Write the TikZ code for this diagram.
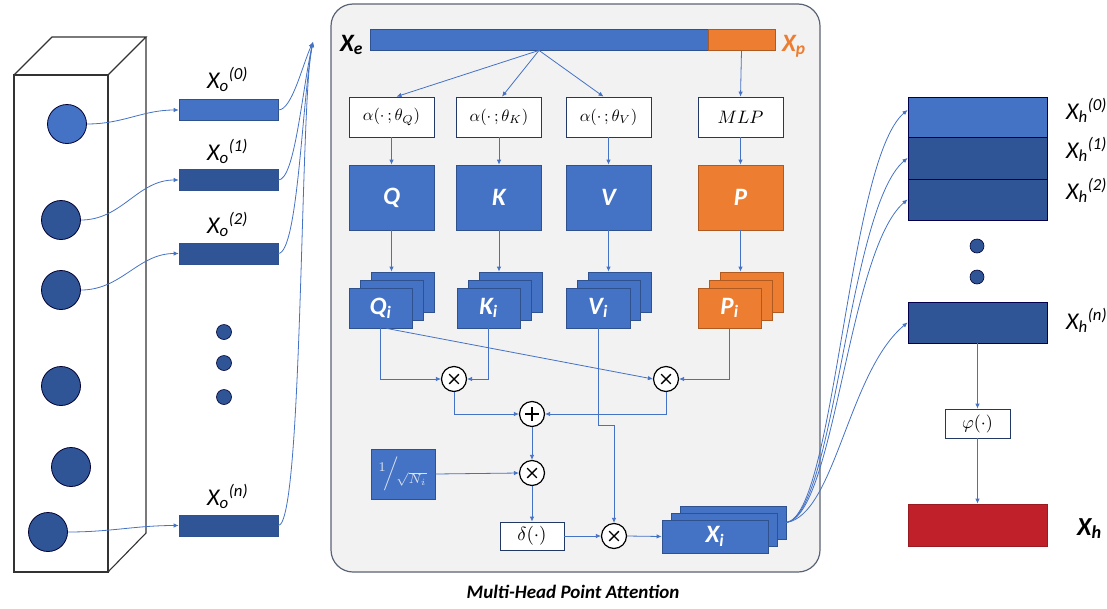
\RequirePackage{fix-cm}
\documentclass[tikz,border=0pt]{standalone}
\usepackage{amsmath}
\usepackage{graphicx}
\usepackage{fontspec}
\newfontfamily\calib{Carlito}
\usetikzlibrary{arrows.meta,calc}
\definecolor{mblue}{HTML}{4472C4}
\definecolor{dblue}{HTML}{2F5597}
\definecolor{eblue}{HTML}{2F528F}
\definecolor{morange}{HTML}{ED7D31}
\definecolor{eorange}{HTML}{AE5A21}
\definecolor{mred}{HTML}{C0202A}
\definecolor{pfill}{HTML}{F2F2F2}
\definecolor{pline}{HTML}{5A6374}
\definecolor{lblue}{HTML}{DCE4F2}
\definecolor{lline}{HTML}{333333}
\tikzset{
 flow/.style={draw=mblue, line width=0.8pt, -{Latex[length=5pt,width=4.5pt]}},
 wbox/.style={draw=eblue!70!black, fill=white, line width=0.8pt, inner sep=0pt},
 bbox/.style={draw=eblue, fill=mblue, line width=0.8pt, inner sep=0pt, text=white, font=\calib\bfseries\itshape\fontsize{25}{25}\selectfont},
 obox/.style={bbox, draw=eorange, fill=morange},
 dbar/.style={draw=eblue, fill=dblue, line width=0.6pt, inner sep=0pt, minimum width=99pt, minimum height=21pt},
 orb/.style={circle, draw=black!80!blue, fill=dblue, line width=0.8pt, minimum size=39pt, inner sep=0pt},
 sdot/.style={circle, draw=black!80!blue, fill=dblue, line width=0.6pt, minimum size=15pt, inner sep=0pt},
 opnode/.style={circle, draw=black, fill=white, line width=1.2pt, minimum size=25pt, inner sep=0pt},
 times/.style={opnode, path picture={
   \draw[line width=1.4pt] ([shift={(-4.8,-4.8)}]path picture bounding box.center) -- ([shift={(4.8,4.8)}]path picture bounding box.center);
   \draw[line width=1.4pt] ([shift={(-4.8,4.8)}]path picture bounding box.center) -- ([shift={(4.8,-4.8)}]path picture bounding box.center);}},
 plus/.style={opnode, path picture={
   \draw[line width=1.4pt] ([shift={(-7,0)}]path picture bounding box.center) -- ([shift={(7,0)}]path picture bounding box.center);
   \draw[line width=1.4pt] ([shift={(0,-7)}]path picture bounding box.center) -- ([shift={(0,7)}]path picture bounding box.center);}},
 lab/.style={font=\calib\itshape\fontsize{24}{24}\selectfont, inner sep=0pt, anchor=base west},
 hrow/.style={draw=black!70!blue, fill=dblue, line width=0.9pt, inner sep=0pt, minimum width=139pt},
 boxline/.style={draw=lline, line width=1.1pt},
}
\begin{document}
\begin{tikzpicture}[x=1pt,y=-1pt]
\useasboundingbox (0,0) rectangle (1107,608);
% ---------- left prism ----------
\draw[boxline] (14,75) rectangle (108,572);
\draw[boxline] (14,75) -- (52,37) -- (146,37) -- (108,75);
\draw[boxline] (146,37) -- (146,533) -- (108,572);
\node[orb, fill=mblue] (c0) at (67,124) {};
\node[orb] (c1) at (61,220) {};
\node[orb] (c2) at (61,290) {};
\node[orb] (c3) at (61,386) {};
\node[orb] (c4) at (71,467) {};
\node[orb] (c5) at (48,532) {};
% dots
\node[sdot] (d1) at (224,332) {};
\node[sdot] (d2) at (224,363) {};
\node[sdot] (d3) at (224,397) {};
% bars
\node[dbar, fill=mblue] (xo0) at (228.5,110) {};
\node[dbar] (xo1) at (228.5,180) {};
\node[dbar] (xo2) at (228.5,253.5) {};
\node[dbar] (xon) at (228.5,525.5) {};
\node[lab] (lo0) at (207,88) {X\textsubscript{o}\textsuperscript{(0)}};
\node[lab] (lo1) at (207,160) {X\textsubscript{o}\textsuperscript{(1)}};
\node[lab] (lo2) at (207,233) {X\textsubscript{o}\textsuperscript{(2)}};
\node[lab] (lon) at (207,505) {X\textsubscript{o}\textsuperscript{(n)}};
\draw[flow] (c0.east) to[out=0,in=180] (xo0.west);
\draw[flow] (c1.east) to[out=0,in=180] (xo1.west);
\draw[flow] (c2.east) to[out=0,in=180] (xo2.west);
\draw[flow] (c5.east) to[out=0,in=180] (xon.west);
\coordinate (conv) at (313,42);
\draw[flow] (xo0.east) .. controls (292,110) and (302,66) .. (conv);
\draw[flow] (xo1.east) .. controls (295,180) and (302,90) .. (conv);
\draw[flow] (xo2.east) .. controls (298,253) and (302,100) .. (conv);
\draw[flow] (xon.east) .. controls (303,525) and (300,100) .. (conv);
% ---------- panel ----------
\node[draw=pline, fill=pfill, line width=1.2pt, rounded corners=22pt, minimum width=489pt, minimum height=568pt, inner sep=0pt] (panel) at (575.5,288) {};
\node[font=\calib\bfseries\itshape\fontsize{19}{19}\selectfont] (cap) at (573,592) {Multi-Head Point Attention};
\node[draw=eblue, fill=mblue, line width=0.8pt, minimum width=338pt, minimum height=21pt, inner sep=0pt] (xeb) at (539,39.5) {};
\node[draw=eorange, fill=morange, line width=0.8pt, minimum width=67pt, minimum height=21pt, inner sep=0pt] (xpb) at (741.5,39.5) {};
\node[font=\calib\bfseries\itshape\fontsize{25}{25}\selectfont, inner sep=0pt, anchor=base west] (xel) at (340,51) {X\textsubscript{e}};
\node[font=\calib\bfseries\itshape\fontsize{25}{25}\selectfont, inner sep=0pt, anchor=base west, text=morange] (xpl) at (782,51) {X\textsubscript{p}};
% alpha boxes
\node[wbox, minimum width=85pt, minimum height=40pt] (aq) at (391.5,117) {\scalebox{1.65}{$\alpha(\cdot\,;\theta_Q)$}};
\node[wbox, minimum width=85pt, minimum height=40pt] (ak) at (499,117) {\scalebox{1.65}{$\alpha(\cdot\,;\theta_K)$}};
\node[wbox, minimum width=85pt, minimum height=40pt] (av) at (608.5,117) {\scalebox{1.65}{$\alpha(\cdot\,;\theta_V)$}};
\node[wbox, minimum width=85pt, minimum height=40pt] (am) at (740.5,117) {\scalebox{1.8}{$MLP$}};
% big boxes
\node[bbox, minimum width=85pt, minimum height=65pt] (q) at (391.5,197.5) {Q};
\node[bbox, minimum width=85pt, minimum height=65pt] (k) at (499,197.5) {K};
\node[bbox, minimum width=85pt, minimum height=65pt] (v) at (608.5,197.5) {V};
\node[obox, minimum width=85pt, minimum height=65pt] (p) at (740.5,197.5) {P};
% stacks
\foreach \nm/\cx/\sty in {qi/380.5/bbox, ki/488.5/bbox, vi/598/bbox, pi/729.5/obox}{
  \node[\sty, minimum width=63pt, minimum height=40pt] (\nm b2) at (\cx+22,292) {};
  \node[\sty, minimum width=63pt, minimum height=40pt] (\nm b1) at (\cx+11,300) {};
}
\node[bbox, minimum width=63pt, minimum height=40pt] (qi) at (380.5,308) {Q\textsubscript{i}};
\node[bbox, minimum width=63pt, minimum height=40pt] (ki) at (488.5,308) {K\textsubscript{i}};
\node[bbox, minimum width=64pt, minimum height=40pt] (vi) at (598,308) {V\textsubscript{i}};
\node[obox, minimum width=63pt, minimum height=40pt] (pi) at (729.5,308) {P\textsubscript{i}};
% arrows top part
\draw[flow] (xeb.south) -- ([xshift=5pt]aq.north);
\draw[flow] (xeb.south) -- ([xshift=3pt]ak.north);
\draw[flow] (xeb.south) -- ([xshift=-5pt]av.north);
\draw[flow] (xpb.south) -- (am.north);
\draw[flow] (aq.south) -- (q.north);
\draw[flow] (ak.south) -- (k.north);
\draw[flow] (av.south) -- (v.north);
\draw[flow] (am.south) -- (p.north);
\draw[flow] (q.south) -- (q.south |- qib2.north);
\draw[flow] (k.south) -- (k.south |- kib2.north);
\draw[flow] (v.south) -- (v.south |- vib2.north);
\draw[flow] (p.south) -- (p.south |- pib2.north);
% operators
\node[times] (m1) at (454,379) {};
\node[times] (m2) at (666,379) {};
\node[plus] (pl) at (532,414) {};
\node[times] (m3) at (532,473) {};
\node[times] (m4) at (614,536) {};
\node[draw=eblue, fill=mblue, line width=0.8pt, minimum width=64pt, minimum height=50pt, inner sep=0pt, text=lblue] (sq) at (403,474) {\scalebox{1.9}{$^{1}\!\Big/\!_{\sqrt{N_i}}$}};
\node[wbox, minimum width=64pt, minimum height=28pt] (dl) at (532,536) {\scalebox{1.9}{$\delta(\cdot)$}};
\foreach \dx/\dy/\nm in {18/14/xib2, 9/7/xib1}{
  \node[bbox, minimum width=106pt, minimum height=33pt] (\nm) at (715+\dx,536.5-\dy) {};
}
\node[bbox, minimum width=106pt, minimum height=33pt] (xi) at (715,536.5) {X\textsubscript{i}};
% lower connectors
\draw[flow] (qi.south) |- (m1.west);
\draw[flow] (ki.south) |- (m1.east);
\draw[flow] ([xshift=6pt]qi.south) -- (m2.west);
\draw[flow] (pi.south) |- (m2.east);
\draw[flow] (m1.south) |- (pl.west);
\draw[flow] (m2.south) |- (pl.east);
\draw[flow] (vi.south) -- ++(0,97) -| (m4.north);
\draw[flow] (pl.south) -- (m3.north);
\draw[flow] (sq.east) -- (m3.west);
\draw[flow] (m3.south) -- (dl.north);
\draw[flow] (dl.east) -- (m4.west);
\draw[flow] (m4.east) -- (xi.west);
% ---------- right side ----------
\node[hrow, fill=mblue, minimum height=40pt] (h0) at (977.5,117) {};
\node[hrow, minimum height=42pt] (h1) at (977.5,158) {};
\node[hrow, minimum height=41pt] (h2) at (977.5,199.5) {};
\node[sdot, minimum size=14pt] (hd1) at (977,246) {};
\node[sdot, minimum size=14pt] (hd2) at (977,277) {};
\node[hrow, minimum height=41pt] (hn) at (977.5,322.5) {};
\node[wbox, minimum width=65pt, minimum height=29pt] (phi) at (977.5,423.5) {\scalebox{1.8}{$\varphi(\cdot)$}};
\node[draw=mred!80!black, fill=mred, line width=0.8pt, minimum width=139pt, minimum height=42pt, inner sep=0pt] (hx) at (977.5,525) {};
\node[lab] (lh0) at (1066,119) {X\textsubscript{h}\textsuperscript{(0)}};
\node[lab] (lh1) at (1066,158) {X\textsubscript{h}\textsuperscript{(1)}};
\node[lab] (lh2) at (1066,199) {X\textsubscript{h}\textsuperscript{(2)}};
\node[lab] (lhn) at (1066,329) {X\textsubscript{h}\textsuperscript{(n)}};
\node[lab, font=\calib\bfseries\itshape\fontsize{26}{26}\selectfont] (lhx) at (1077,535) {X\textsubscript{h}};
\draw[flow] (hn.south) -- (phi.north);
\draw[flow] (phi.south) -- (hx.north);
\draw[flow] (xib2.east) .. controls (835,515) and (848,160) .. ($(h0.west)+(0,-7)$);
\draw[flow] (xib2.east) .. controls (835,515) and (848,208) .. (h1.west);
\draw[flow] (xib2.east) .. controls (835,515) and (848,250) .. (h2.west);
\draw[flow] (xib2.east) .. controls (835,515) and (848,372) .. (hn.west);
\end{tikzpicture}
\end{document}
